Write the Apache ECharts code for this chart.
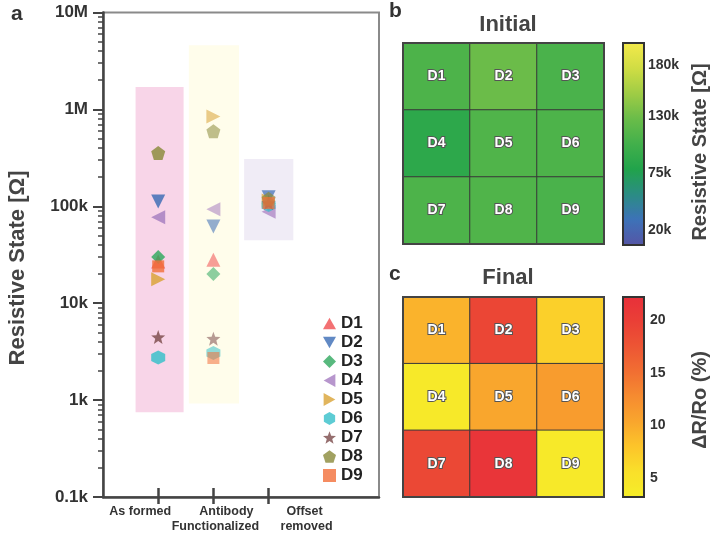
<!DOCTYPE html>
<html><head><meta charset="utf-8">
<script src="https://cdn.jsdelivr.net/npm/echarts@6/dist/echarts.min.js"></script>
<style>html,body{margin:0;padding:0;background:#fff}#c{width:711px;height:533px}</style>
</head><body><div id="c"></div>
<script>
// ---------- data ----------
const devices = ['D1','D2','D3','D4','D5','D6','D7','D8','D9'];
const stagePos = [1, 2, 3];
const xCategorySlots = ['', 'As formed', 'Antibody\nFunctionalized', 'Offset\nremoved', '', ''];
const asFormed      = [27000, 112000, 30000, 77000, 17700, 2760, 4470, 355000, 24000];
const antibody      = [28000, 62000, 20000, 93000, 847000, 3060, 4300, 596000, 2720];
const offsetRemoved = [112000, 124000, 106000, 88000, 115000, 103000, 108000, 120000, 108000];
const yTickValues = [100, 1000, 10000, 100000, 1000000, 10000000];
const yTickLabels = ['0.1k','1k','10k','100k','1M','10M'];
// ranges of shaded bands
const bandX = [[0.59, 1.46], [1.555, 2.463], [2.557, 3.448]];
const bandY = [[750, 1700000], [920, 4600000], [44700, 308000]];
// heatmaps (row-major D1..D9)
const initialVals = [110000, 128000, 108000, 88000, 112000, 110000, 110000, 112000, 108000];
const finalVals   = [9.3, 19.2, 7.0, 4.0, 10.3, 11.2, 19.0, 21.5, 4.1];
const initialRange = [5500, 201000];
const finalRange = [3.2, 22.2];
const initialTicks = [20000, 75000, 130000, 180000];
const finalTicks = [5, 10, 15, 20];

// ---------- styles ----------
const FONT = '"Liberation Sans", Arial, sans-serif';
const colors = ['#f04e50','#3a6bb5','#2ea85e','#a57cc0','#d9a234','#35bfc9','#7b4a4a','#8a8a3a','#f26f3a'];
function poly(pts){return 'path://M'+pts.map(p=>p[0].toFixed(2)+','+p[1].toFixed(2)).join('L')+'Z';}
function regular(n, rot){const p=[];for(let k=0;k<n;k++){const a=rot+k*2*Math.PI/n;p.push([5+5*Math.cos(a),5+5*Math.sin(a)]);}return poly(p);}
function star(){const p=[];for(let k=0;k<10;k++){const r=k%2?2.1:5;const a=-Math.PI/2+k*Math.PI/5;p.push([5+r*Math.cos(a),5+r*Math.sin(a)]);}return poly(p);}
const symbols = [
  'path://M5,0L10,9L0,9Z',
  'path://M0,0L10,0L5,9Z',
  'diamond',
  'path://M9,0L9,10L0,5Z',
  'path://M0,0L9,5L0,10Z',
  regular(6, -Math.PI/2),
  star(),
  regular(5, -Math.PI/2),
  'rect'
];
const colOpacity = [0.82, 0.55, 0.7];

const series = [];
series.push({
  type:'scatter', name:'bands', xAxisIndex:0, yAxisIndex:0, data:[], silent:true,
  markArea:{silent:true, data: bandX.map((bx,i)=>[
    {xAxis:bx[0], yAxis:bandY[i][0], itemStyle:{color:['#f8d5e8','#fffdeb','#f0ecf6'][i]}},
    {xAxis:bx[1], yAxis:bandY[i][1]}
  ])}
});
devices.forEach((d,i)=>{
  const vals=[asFormed[i], antibody[i], offsetRemoved[i]];
  series.push({
    type:'scatter', name:d, xAxisIndex:0, yAxisIndex:0,
    symbol:symbols[i], symbolSize: i===8?12:14,
    itemStyle:{color:colors[i]},
    data: vals.map((v,k)=>({value:[stagePos[k], v], itemStyle:{opacity:colOpacity[k]}}))
  });
});
function hmData(vals){return vals.map((v,i)=>({value:[i%3, Math.floor(i/3), v], name:devices[i]}));}
const hmLabel = {show:true, formatter:'{b}', color:'#fff', fontFamily:FONT, fontWeight:'bold', fontSize:14, textBorderColor:'#555', textBorderWidth:2};
series.push({type:'heatmap', xAxisIndex:4, yAxisIndex:2, data:hmData(initialVals), label:hmLabel, itemStyle:{borderColor:'#3a3a3a', borderWidth:1}, emphasis:{disabled:true}});
series.push({type:'heatmap', xAxisIndex:5, yAxisIndex:3, data:hmData(finalVals), label:hmLabel, itemStyle:{borderColor:'#3a3a3a', borderWidth:1}, emphasis:{disabled:true}});
const hmIdx1 = series.length-2, hmIdx2 = series.length-1;

const minorTicks=[];
for(let e=2;e<7;e++){for(let m=2;m<=9;m++){minorTicks.push(m*Math.pow(10,e));}}

const labelStyle = {color:'#333', fontFamily:FONT, fontWeight:'bold'};
const xl = {fontSize:12.5, fontFamily:FONT, fontWeight:'bold', color:'#333', lineHeight:15};
// label line offsets (shift relative to tick, as in the original figure)
const xLabelRich = {
  af:{...xl, padding:[0,36,0,0]},
  ab1:{...xl, padding:[0,0,0,26]},
  ab2:{...xl, padding:[0,0,0,4]},
  of1:{...xl, padding:[0,0,0,72]},
  of2:{...xl, padding:[0,0,0,76]}
};
const richKeys = {'As formed':['af'], 'Antibody\nFunctionalized':['ab1','ab2'], 'Offset\nremoved':['of1','of2']};
function xLabelFmt(v){
  if(!v) return '';
  const keys = richKeys[v];
  return v.split('\n').map((line,i)=>'{'+keys[i]+'|'+line+'}').join('\n');
}
const tickInterval = (idx,val)=>val!=='';
const G0 = {left:103, top:12.5, width:276, height:487};
const option = {
  animation:false,
  backgroundColor:'#fff',
  grid:[
    {...G0, show:true, borderColor:'#8a8a8a', borderWidth:2, z:0},
    {left:403, top:43, width:201, height:201, show:true, borderColor:'#444', borderWidth:2, z:10, backgroundColor:'transparent'},
    {left:403, top:297, width:201, height:200, show:true, borderColor:'#444', borderWidth:2, z:10, backgroundColor:'transparent'},
    {left:623, top:43, width:21, height:202, show:true, borderColor:'#333', borderWidth:2, z:10, backgroundColor:'transparent'},
    {left:623, top:297, width:21, height:200, show:true, borderColor:'#333', borderWidth:2, z:10, backgroundColor:'transparent'}
  ],
  xAxis:[
    {type:'value', gridIndex:0, min:0, max:5, z:5, position:'bottom',
     axisLine:{show:true, lineStyle:{color:'#444', width:2.5}},
     axisTick:{show:false}, axisLabel:{show:false}, splitLine:{show:false}},
    {type:'category', gridIndex:0, data:xCategorySlots, boundaryGap:false, position:'bottom', z:6,
     axisLine:{show:false},
     axisTick:{show:true, inside:true, length:9, interval:tickInterval, lineStyle:{color:'#444', width:2.5}},
     axisLabel:{show:true, interval:0, hideOverlap:false, margin:7, formatter:xLabelFmt, rich:xLabelRich, ...labelStyle, fontSize:12.5},
     splitLine:{show:false}},
    {type:'category', gridIndex:0, data:xCategorySlots, boundaryGap:false, position:'bottom', z:6,
     axisLine:{show:false},
     axisTick:{show:true, inside:false, length:7, interval:tickInterval, lineStyle:{color:'#444', width:2.5}},
     axisLabel:{show:false}, splitLine:{show:false}},
    {type:'value', gridIndex:3, show:false},
    {type:'category', gridIndex:1, data:['a','b','c'], show:false},
    {type:'category', gridIndex:2, data:['a','b','c'], show:false},
    {type:'value', gridIndex:4, show:false}
  ],
  yAxis:[
    {type:'log', gridIndex:0, min:100, max:10000000, logBase:10, z:5, position:'left',
     axisLine:{show:true, lineStyle:{color:'#444', width:2.5}},
     axisTick:{show:true, length:10, lineStyle:{color:'#444', width:2}},
     axisLabel:{formatter:v=>yTickLabels[yTickValues.findIndex(t=>Math.abs(t-v)/t<1e-6)]||'', margin:15, fontSize:17, ...labelStyle},
     splitLine:{show:false}},
    {type:'log', gridIndex:0, min:100, max:10000000, logBase:10, z:5, position:'left', offset:0,
     axisLine:{show:false},
     axisTick:{show:true, customValues:minorTicks, length:5, lineStyle:{color:'#444', width:1.5}},
     axisLabel:{show:false}, splitLine:{show:false}},
    {type:'category', gridIndex:1, data:['a','b','c'], inverse:true, show:false},
    {type:'category', gridIndex:2, data:['a','b','c'], inverse:true, show:false},
    {type:'value', gridIndex:3, min:initialRange[0], max:initialRange[1], position:'right',
     axisLine:{show:false}, axisTick:{show:false}, splitLine:{show:false},
     axisLabel:{customValues:initialTicks, formatter:v=>(v/1000)+'k', margin:4, fontSize:14, ...labelStyle}},
    {type:'value', gridIndex:4, min:finalRange[0], max:finalRange[1], position:'right',
     axisLine:{show:false}, axisTick:{show:false}, splitLine:{show:false},
     axisLabel:{customValues:finalTicks, margin:6, fontSize:14, ...labelStyle}}
  ],
  visualMap:[
    {type:'continuous', seriesIndex:hmIdx1, min:initialRange[0], max:initialRange[1], calculable:false, hoverLink:false,
     left:623, top:43, itemWidth:21, itemHeight:202, padding:0, text:null, showLabel:false,
     inRange:{color:['#5556a6','#3d72b8','#2b8c84','#21a34b','#42b04b','#6abc49','#9fcc45','#d0dd44','#f3e94a']}},
    {type:'continuous', seriesIndex:hmIdx2, min:finalRange[0], max:finalRange[1], calculable:false, hoverLink:false,
     left:623, top:297, itemWidth:21, itemHeight:200, padding:0, text:null, showLabel:false,
     inRange:{color:['#f6ee28','#f9e02a','#fcc52a','#f9a62d','#f68c30','#f16f32','#ed5634','#ea4036','#e8303a']}}
  ],
  legend:{
    data:devices, orient:'vertical', left:318, top:309, itemWidth:13, itemHeight:13, itemGap:0,
    textStyle:{color:'#222', fontFamily:FONT, fontWeight:'bold', fontSize:17, lineHeight:19}, selectedMode:false
  },
  graphic:[
    {type:'text', left:11, top:4, style:{text:'a', font:'bold 21px '+FONT, fill:'#333'}},
    {type:'text', left:389, top:1, style:{text:'b', font:'bold 21px '+FONT, fill:'#333'}},
    {type:'text', left:389, top:264, style:{text:'c', font:'bold 21px '+FONT, fill:'#333'}},
    {type:'text', x:508, y:25, style:{text:'Initial', font:'bold 22px '+FONT, fill:'#444', align:'center', verticalAlign:'middle'}},
    {type:'text', x:508, y:278, style:{text:'Final', font:'bold 22px '+FONT, fill:'#444', align:'center', verticalAlign:'middle'}},
    {type:'text', x:18, y:268, rotation:Math.PI/2, style:{text:'Resistive State [Ω]', font:'bold 22px '+FONT, fill:'#444', align:'center', verticalAlign:'middle'}},
    {type:'text', x:700, y:152, rotation:Math.PI/2, style:{text:'Resistive State [Ω]', font:'bold 20px '+FONT, fill:'#444', align:'center', verticalAlign:'middle'}},
    {type:'text', x:700, y:400, rotation:Math.PI/2, style:{text:'ΔR/Ro (%)', font:'bold 20px '+FONT, fill:'#444', align:'center', verticalAlign:'middle'}}
  ],
  series:series
};
const chart = echarts.init(document.getElementById('c'), null, {renderer:'canvas'});
chart.setOption(option);
</script>
</body></html>
